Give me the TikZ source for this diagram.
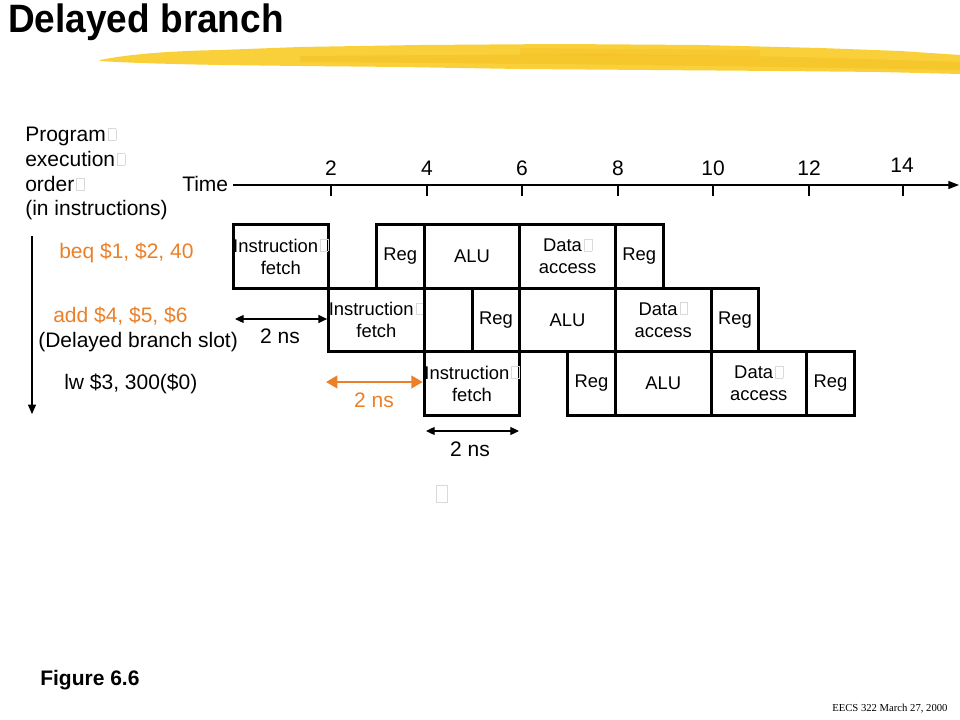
\documentclass[tikz,border=0pt]{standalone}
\usepackage{fontspec}
\setmainfont{Liberation Sans}
\newfontfamily\serifface{Liberation Serif}
\usetikzlibrary{arrows.meta}
\definecolor{orng}{RGB}{235,128,40}
\definecolor{ylw}{RGB}{250,208,58}
\definecolor{ylwd}{RGB}{243,186,30}
\newcommand{\tofu}{\kern1.5pt\raisebox{1pt}{\color{gray!30}\fboxsep=0pt\fboxrule=0.4pt\fbox{\rule{0pt}{8.4pt}\hspace{5.4pt}}}}
\newcommand{\pcell}[5]{\node[cellbox, minimum width={(#3-#2)*35.85pt}, minimum height=47.6pt] (#1) at ({233+23.9*(#2+#3)}, #4) {#5};}
\begin{document}
\begin{tikzpicture}[x=0.75pt,y=-0.75pt,
  lbl/.style={font=\fontsize{15.75}{18.75}\selectfont, inner sep=0pt, anchor=base west},
  num/.style={font=\fontsize{15.75}{18}\selectfont, inner sep=0pt, anchor=base},
  cellbox/.style={draw, line width=2.25pt, inner sep=0pt, align=center, font=\fontsize{13.8}{16.5}\selectfont},
  thinarr/.style={line width=0.9pt, {Triangle[length=6.5pt,width=6pt]}-{Triangle[length=6.5pt,width=6pt]}},
  orarr/.style={orng, line width=1.5pt, {Triangle[length=8.5pt,width=9.5pt]}-{Triangle[length=8.5pt,width=9.5pt]}}
]
\useasboundingbox (0,0) rectangle (960,720);
\fill[white] (0,0) rectangle (960,720);

% yellow brush stroke
\fill[ylw] (100,60) .. controls (130,54) and (170,51) .. (220,50)
  -- (300,47) -- (420,45) -- (560,44) -- (700,45) -- (820,48) -- (900,51) -- (960,55)
  -- (960,74) -- (880,72) -- (780,71) -- (650,70) -- (520,69) -- (400,67) -- (300,66)
  -- (220,65) .. controls (170,64) and (130,63) .. (100,61) -- cycle;
\fill[ylwd, opacity=0.45] (300,56) -- (600,54) -- (800,57) -- (960,62) -- (960,70) -- (780,67) -- (560,64) -- (300,62) -- cycle;
\fill[ylwd, opacity=0.35] (520,48) -- (760,50) -- (760,56) -- (520,55) -- cycle;

% title
\node[anchor=base west, inner sep=0pt, font=\fontsize{27.75}{30}\selectfont\bfseries] (title) at (8,33) {\scalebox{1}[1.07]{Delayed branch}};

% left heading
\node[lbl] (p1) at (25,141.5) {Program\tofu};
\node[lbl] (p2) at (25,166.5) {execution\tofu};
\node[lbl] (p3) at (25,191.5) {order\tofu};
\node[lbl] (p4) at (25,216) {(in instructions)};

% time axis
\node[lbl] (time) at (182,191.5) {Time};
\coordinate (ax0) at (233,185);
\coordinate (ax1) at (959,185);
\draw[line width=0.8pt, -{Triangle[length=8pt,width=6pt]}] (ax0) -- (ax1);
\foreach \t/\xx in {2/331,4/427,6/522,8/618,10/713,12/809} {
  \draw[line width=0.8pt] (\xx,185) -- (\xx,196);
  \node[num] (n\t) at (\xx,175.5) {\t};
}
\draw[line width=0.8pt] (903,185) -- (903,196);
\node[num] (n14) at (902,172.5) {14};

% program order arrow
\coordinate (v0) at (32,236);
\coordinate (v1) at (32,414);
\draw[line width=0.8pt, -{Triangle[length=7pt,width=6pt]}] (v0) -- (v1);

% instruction labels
\node[lbl, text=orng] (beq) at (59,258.5) {beq \$1, \$2, 40};
\node[lbl, text=orng] (add) at (53,322.5) {add \$4, \$5, \$6};
\node[lbl] (slot) at (38,347.5) {(Delayed branch slot)};
\node[lbl] (lw) at (64,389.5) {lw \$3, 300(\$0)};

% pipeline row 1
\pcell{aif}{0}{2}{256.5}{Instruction\tofu\\fetch}
\pcell{areg}{3}{4}{256.5}{Reg}
\pcell{aalu}{4}{6}{256.5}{ALU}
\pcell{adat}{6}{8}{256.5}{Data\tofu\\access}
\pcell{awb}{8}{9}{256.5}{Reg}
% row 2
\pcell{bif}{2}{4}{320}{Instruction\tofu\\fetch}
\pcell{bgap}{4}{5}{320}{}
\pcell{breg}{5}{6}{320}{Reg}
\pcell{balu}{6}{8}{320}{ALU}
\pcell{bdat}{8}{10}{320}{Data\tofu\\access}
\pcell{bwb}{10}{11}{320}{Reg}
% row 3
\pcell{cif}{4}{6}{383.5}{Instruction\tofu\\fetch}
\pcell{creg}{7}{8}{383.5}{Reg}
\pcell{calu}{8}{10}{383.5}{ALU}
\pcell{cdat}{10}{12}{383.5}{Data\tofu\\access}
\pcell{cwb}{12}{13}{383.5}{Reg}

% 2 ns arrows
\coordinate (k0) at (235,319);
\draw[thinarr] (k0) -- (k0 -| bif.west);
\node[num] (ns1) at (280,343.5) {2 ns};

\coordinate (o0) at (326,382);
\draw[orarr] (o0) -- (o0 -| cif.west);
\node[num, text=orng] (ns2) at (374,407.5) {2 ns};

\coordinate (m0) at (426,431);
\coordinate (m1) at (519,431);
\draw[thinarr] (m0) -- (m1);
\node[num] (ns3) at (470,456.5) {2 ns};

% stray glyph box
\node[draw=gray!30, line width=0.4pt, minimum width=8.5pt, minimum height=13pt, inner sep=0pt] (stray) at (442,494) {};

% footer
\node[anchor=base west, inner sep=0pt, font=\fontsize{15.75}{18}\selectfont\bfseries] (fig) at (40,685) {Figure 6.6};
\node[anchor=base west, inner sep=0pt, font=\serifface\fontsize{8}{9}\selectfont] (foot) at (832,711) {EECS 322 March 27, 2000};
\end{tikzpicture}
\end{document}
